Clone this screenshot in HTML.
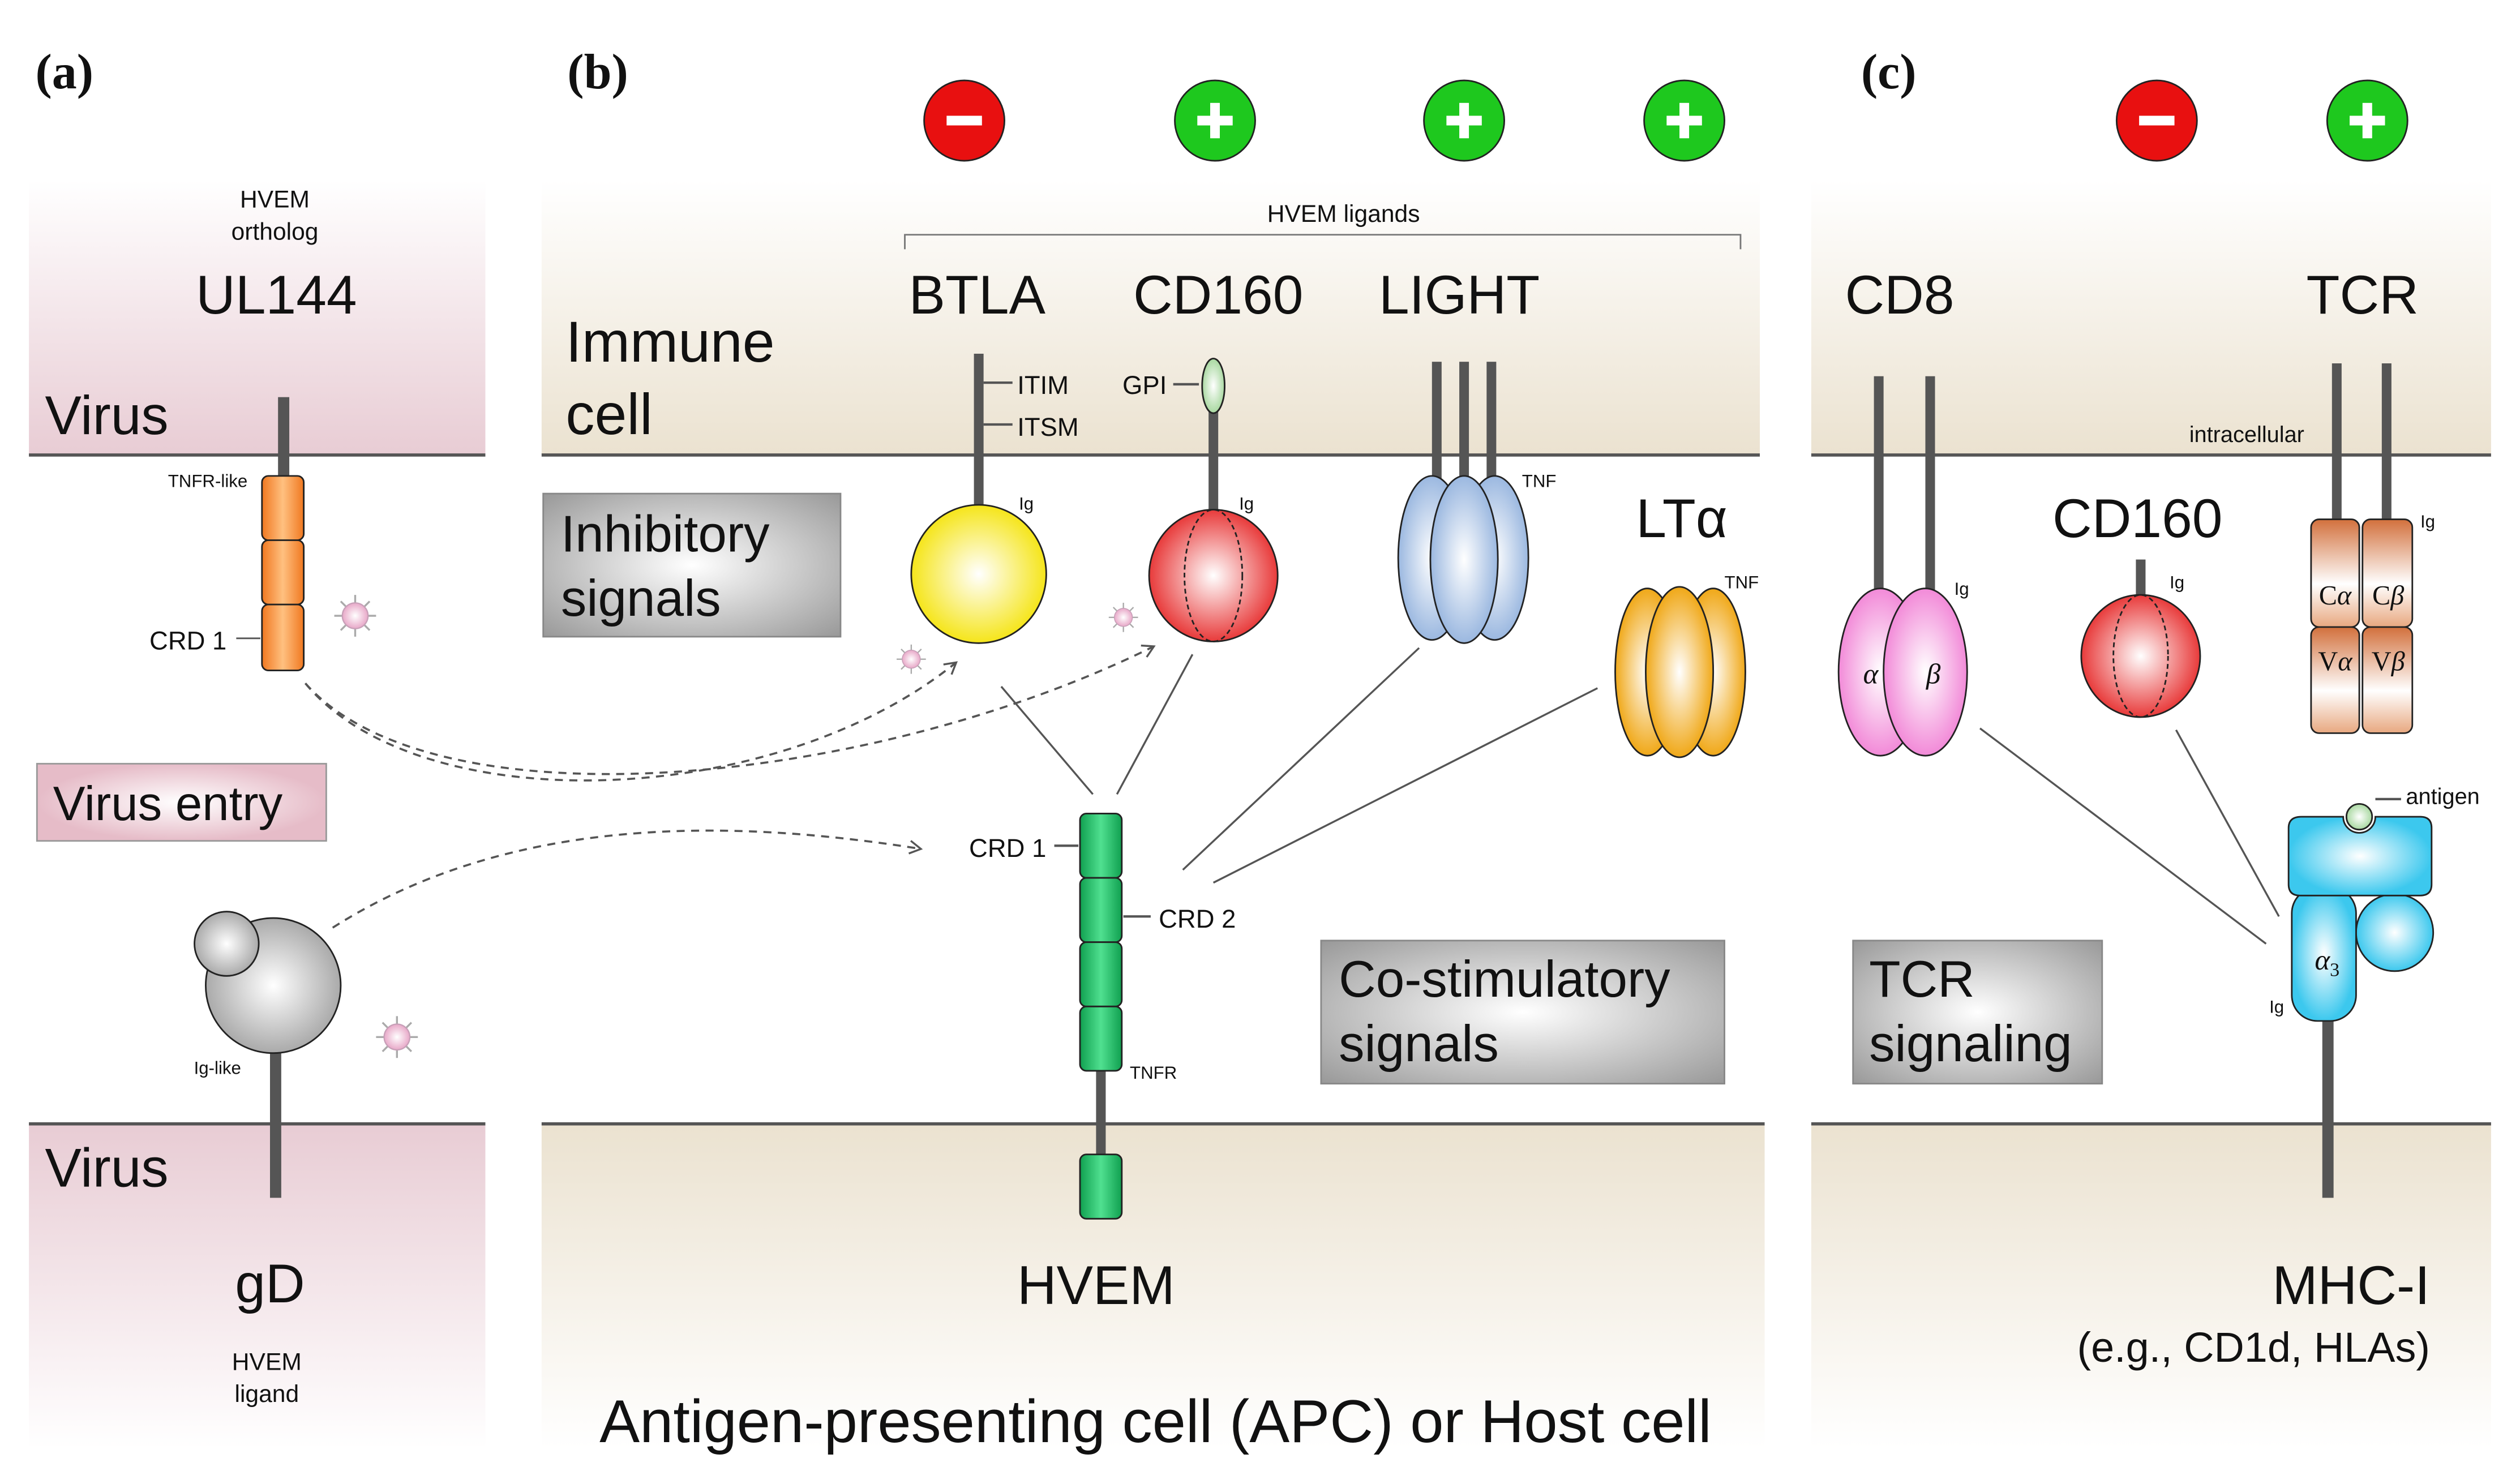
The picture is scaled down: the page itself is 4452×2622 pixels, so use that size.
<!DOCTYPE html>
<html><head><meta charset="utf-8"><style>
html,body{margin:0;padding:0;background:#fff}
svg{display:block}
text{font-family:"Liberation Sans",sans-serif;fill:#111}
.s{font-family:"Liberation Serif",serif}
</style></head><body>
<svg width="4452" height="2622" viewBox="0 0 1568 923" preserveAspectRatio="none" xmlns="http://www.w3.org/2000/svg">
<defs>
<linearGradient id="pkT" x1="0" y1="0" x2="0" y2="1"><stop offset="0" stop-color="#fff"/><stop offset="1" stop-color="#e8ccd4"/></linearGradient>
<linearGradient id="pkB" x1="0" y1="0" x2="0" y2="1"><stop offset="0" stop-color="#e8ccd4"/><stop offset="1" stop-color="#fff"/></linearGradient>
<linearGradient id="bgT" x1="0" y1="0" x2="0" y2="1"><stop offset="0" stop-color="#fff"/><stop offset="1" stop-color="#ebe2d0"/></linearGradient>
<linearGradient id="bgB" x1="0" y1="0" x2="0" y2="1"><stop offset="0" stop-color="#ebe2d0"/><stop offset="1" stop-color="#fff"/></linearGradient>
<radialGradient id="gy"><stop offset="0" stop-color="#fff"/><stop offset="1" stop-color="#aaa"/></radialGradient>
<radialGradient id="gbox" cx="0.5" cy="0.5" r="0.7"><stop offset="0" stop-color="#fff"/><stop offset="1" stop-color="#999"/></radialGradient>
<radialGradient id="pkbox"><stop offset="0" stop-color="#fff"/><stop offset="1" stop-color="#e6bcc8"/></radialGradient>
<radialGradient id="yl"><stop offset="0" stop-color="#fff"/><stop offset="1" stop-color="#f5e51a"/></radialGradient>
<radialGradient id="rd"><stop offset="0" stop-color="#fff"/><stop offset="1" stop-color="#e83a3a"/></radialGradient>
<radialGradient id="bl"><stop offset="0" stop-color="#fff"/><stop offset="1" stop-color="#9bb8e0"/></radialGradient>
<radialGradient id="or"><stop offset="0" stop-color="#fff"/><stop offset="1" stop-color="#f0a818"/></radialGradient>
<radialGradient id="pi"><stop offset="0" stop-color="#fff"/><stop offset="1" stop-color="#f28ad8"/></radialGradient>
<radialGradient id="cy"><stop offset="0" stop-color="#fff"/><stop offset="1" stop-color="#3cc8ee"/></radialGradient>
<linearGradient id="brn" x1="0" y1="0" x2="0" y2="1"><stop offset="0" stop-color="#d2703c"/><stop offset="0.6" stop-color="#fff"/><stop offset="1" stop-color="#e8a880"/></linearGradient>
<linearGradient id="orh" x1="0" y1="0" x2="1" y2="0"><stop offset="0" stop-color="#f07820"/><stop offset="0.5" stop-color="#ffc080"/><stop offset="1" stop-color="#f07820"/></linearGradient>
<linearGradient id="grh" x1="0" y1="0" x2="1" y2="0"><stop offset="0" stop-color="#10a050"/><stop offset="0.5" stop-color="#50e090"/><stop offset="1" stop-color="#10a050"/></linearGradient>
<radialGradient id="vir"><stop offset="0" stop-color="#fff"/><stop offset="1" stop-color="#e8a8c8"/></radialGradient>
<radialGradient id="lg"><stop offset="0" stop-color="#fff"/><stop offset="1" stop-color="#a8d8a0"/></radialGradient>
<marker id="ah" markerWidth="10" markerHeight="10" refX="8" refY="5" orient="auto" markerUnits="userSpaceOnUse"><path d="M1,1 L8,5 L1,9" fill="none" stroke="#555" stroke-width="1.2"/></marker>
<g id="virus"><g stroke="#aaa" stroke-width="1.2"><line x1="-13" y1="0" x2="13" y2="0"/><line x1="0" y1="-13" x2="0" y2="13"/><line x1="-9" y1="-9" x2="9" y2="9"/><line x1="-9" y1="9" x2="9" y2="-9"/></g><circle r="8" fill="url(#vir)" stroke="#c8a0b8" stroke-width="0.8"/></g>
</defs>

<rect x="18" y="112" width="284" height="171" fill="url(#pkT)"/>
<rect x="18" y="699" width="284" height="202" fill="url(#pkB)"/>
<rect x="337" y="112" width="758" height="171" fill="url(#bgT)"/>
<rect x="337" y="699" width="761" height="202" fill="url(#bgB)"/>
<rect x="1127" y="112" width="423" height="171" fill="url(#bgT)"/>
<rect x="1127" y="699" width="423" height="202" fill="url(#bgB)"/>
<g stroke="#555" stroke-width="2"><line x1="18" y1="283" x2="302" y2="283"/><line x1="18" y1="699" x2="302" y2="699"/><line x1="337" y1="283" x2="1095" y2="283"/><line x1="337" y1="699" x2="1098" y2="699"/><line x1="1127" y1="283" x2="1550" y2="283"/><line x1="1127" y1="699" x2="1550" y2="699"/></g>

<text class="s" x="22" y="55" font-size="31" font-weight="bold">(a)</text>
<text class="s" x="353" y="55" font-size="31" font-weight="bold">(b)</text>
<text class="s" x="1158" y="55" font-size="31" font-weight="bold">(c)</text>

<g stroke="#222" stroke-width="1">
<circle cx="600" cy="75" r="25" fill="#e81010"/><circle cx="756" cy="75" r="25" fill="#1ec81e"/><circle cx="911" cy="75" r="25" fill="#1ec81e"/><circle cx="1048" cy="75" r="25" fill="#1ec81e"/><circle cx="1342" cy="75" r="25" fill="#e81010"/><circle cx="1473" cy="75" r="25" fill="#1ec81e"/></g>
<g fill="#fff"><rect x="589" y="72" width="22" height="6"/><rect x="745" y="72" width="22" height="6"/><rect x="753" y="64" width="6" height="22"/><rect x="900" y="72" width="22" height="6"/><rect x="908" y="64" width="6" height="22"/><rect x="1037" y="72" width="22" height="6"/><rect x="1045" y="64" width="6" height="22"/><rect x="1331" y="72" width="22" height="6"/><rect x="1462" y="72" width="22" height="6"/><rect x="1470" y="64" width="6" height="22"/></g>

<text x="836" y="138" font-size="15" text-anchor="middle">HVEM ligands</text>
<path d="M563,155 V146 H1083 V155" fill="none" stroke="#777" stroke-width="1"/>

<text x="171" y="129" font-size="15" text-anchor="middle">HVEM</text>
<text x="171" y="149" font-size="15" text-anchor="middle">ortholog</text>
<text x="172" y="195" font-size="34" text-anchor="middle">UL144</text>
<text x="28" y="270" font-size="34">Virus</text>
<rect x="173" y="247" width="7" height="50" fill="#555"/>
<g stroke="#222" stroke-width="1" fill="url(#orh)"><rect x="163" y="296" width="26" height="40" rx="4"/><rect x="163" y="336" width="26" height="40" rx="4"/><rect x="163" y="376" width="26" height="41" rx="4"/></g>
<text x="154" y="303" font-size="11" text-anchor="end">TNFR-like</text>
<text x="141" y="404" font-size="16" text-anchor="end">CRD 1</text>
<line x1="147" y1="397" x2="162" y2="397" stroke="#555"/>
<use href="#virus" x="221" y="383"/>
<g fill="none" stroke="#555" stroke-width="1.3" stroke-dasharray="5,4">
<path d="M190,425 C260,510 480,505 595,412" marker-end="url(#ah)"/>
<path d="M190,425 C270,515 540,490 718,402" marker-end="url(#ah)"/>
<path d="M207,577 C320,505 460,510 573,528" marker-end="url(#ah)"/>
</g>
<rect x="23" y="475" width="180" height="48" fill="url(#pkbox)" stroke="#999"/>
<text x="33" y="510" font-size="30">Virus entry</text>
<rect x="168" y="650" width="7" height="95" fill="#555"/>
<circle cx="170" cy="613" r="42" fill="url(#gy)" stroke="#222"/>
<circle cx="141" cy="587" r="20" fill="url(#gy)" stroke="#222"/>
<text x="150" y="668" font-size="11" text-anchor="end">Ig-like</text>
<use href="#virus" x="247" y="645"/>
<text x="28" y="738" font-size="34">Virus</text>
<text x="168" y="810" font-size="34" text-anchor="middle">gD</text>
<text x="166" y="852" font-size="15" text-anchor="middle">HVEM</text>
<text x="166" y="872" font-size="15" text-anchor="middle">ligand</text>

<text x="352" y="225" font-size="36">Immune</text>
<text x="352" y="270" font-size="36">cell</text>
<rect x="338" y="307" width="185" height="89" fill="url(#gbox)" stroke="#888"/>
<text x="349" y="343" font-size="32">Inhibitory</text>
<text x="349" y="383" font-size="32">signals</text>
<text x="608" y="195" font-size="34" text-anchor="middle">BTLA</text>
<text x="758" y="195" font-size="34" text-anchor="middle">CD160</text>
<text x="908" y="195" font-size="34" text-anchor="middle">LIGHT</text>
<rect x="606" y="220" width="6" height="100" fill="#555"/>
<g stroke="#555" stroke-width="1.5"><line x1="612" y1="238" x2="630" y2="238"/><line x1="612" y1="264" x2="630" y2="264"/><line x1="730" y1="239" x2="746" y2="239"/><line x1="656" y1="526" x2="671" y2="526"/><line x1="699" y1="570" x2="716" y2="570"/><line x1="1478" y1="497" x2="1494" y2="497"/></g>
<text x="633" y="245" font-size="16">ITIM</text>
<text x="633" y="271" font-size="16">ITSM</text>
<ellipse cx="609" cy="357" rx="42" ry="43" fill="url(#yl)" stroke="#222"/>
<text x="634" y="317" font-size="11">Ig</text>
<rect x="752" y="255" width="6" height="64" fill="#555"/>
<ellipse cx="755" cy="240" rx="7" ry="17" fill="url(#lg)" stroke="#222"/>
<text x="726" y="245" font-size="16" text-anchor="end">GPI</text>
<ellipse cx="755" cy="358" rx="40" ry="41" fill="url(#rd)" stroke="#222"/>
<ellipse cx="755" cy="358" rx="18" ry="41" fill="none" stroke="#222" stroke-dasharray="3,2"/>
<text x="771" y="317" font-size="11">Ig</text>
<g fill="#555"><rect x="891" y="225" width="6" height="75"/><rect x="908" y="225" width="6" height="75"/><rect x="925" y="225" width="6" height="75"/></g>
<g stroke="#222" fill="url(#bl)"><ellipse cx="930" cy="347" rx="21" ry="51"/><ellipse cx="891" cy="347" rx="21" ry="51"/><ellipse cx="911" cy="348" rx="21" ry="52"/></g>
<text x="947" y="303" font-size="11">TNF</text>
<text x="1018" y="334" font-size="34">LTα</text>
<g stroke="#222" fill="url(#or)"><ellipse cx="1066" cy="418" rx="20" ry="52"/><ellipse cx="1025" cy="418" rx="20" ry="52"/><ellipse cx="1045" cy="418" rx="21" ry="53"/></g>
<text x="1073" y="366" font-size="11">TNF</text>
<use href="#virus" x="567" y="410" transform="translate(567 410) scale(0.7) translate(-567 -410)"/>
<use href="#virus" x="699" y="384" transform="translate(699 384) scale(0.7) translate(-699 -384)"/>
<g stroke="#555" stroke-width="1.2"><line x1="623" y1="427" x2="680" y2="494"/><line x1="742" y1="407" x2="695" y2="494"/><line x1="883" y1="403" x2="736" y2="541"/><line x1="994" y1="428" x2="755" y2="549"/><line x1="1232" y1="453" x2="1410" y2="587"/><line x1="1354" y1="454" x2="1418" y2="570"/></g>
<rect x="682" y="664" width="6" height="56" fill="#555"/>
<g stroke="#222" fill="url(#grh)"><rect x="672" y="506" width="26" height="40" rx="4"/><rect x="672" y="546" width="26" height="40" rx="4"/><rect x="672" y="586" width="26" height="40" rx="4"/><rect x="672" y="626" width="26" height="40" rx="4"/><rect x="672" y="718" width="26" height="40" rx="4"/></g>
<text x="651" y="533" font-size="16" text-anchor="end">CRD 1</text>
<text x="721" y="577" font-size="16">CRD 2</text>
<text x="703" y="671" font-size="11">TNFR</text>
<rect x="822" y="585" width="251" height="89" fill="url(#gbox)" stroke="#888"/>
<text x="833" y="620" font-size="32">Co-stimulatory</text>
<text x="833" y="660" font-size="32">signals</text>
<text x="682" y="811" font-size="34" text-anchor="middle">HVEM</text>
<text x="719" y="897" font-size="37.5" text-anchor="middle">Antigen-presenting cell (APC) or Host cell</text>

<text x="1182" y="195" font-size="34" text-anchor="middle">CD8</text>
<text x="1470" y="195" font-size="34" text-anchor="middle">TCR</text>
<text x="1398" y="275" font-size="14" text-anchor="middle">intracellular</text>
<g fill="#555"><rect x="1166" y="234" width="6" height="145"/><rect x="1198" y="234" width="6" height="145"/><rect x="1451" y="226" width="6" height="100"/><rect x="1482" y="226" width="6" height="100"/><rect x="1329" y="348" width="6" height="26"/><rect x="1445" y="630" width="7" height="115"/></g>
<g stroke="#222" fill="url(#pi)"><ellipse cx="1170" cy="418" rx="26" ry="52"/><ellipse cx="1198" cy="418" rx="26" ry="52"/></g>
<text class="s" x="1164" y="425" font-size="18" font-style="italic" text-anchor="middle">α</text>
<text class="s" x="1203" y="425" font-size="18" font-style="italic" text-anchor="middle">β</text>
<text x="1216" y="370" font-size="11">Ig</text>
<text x="1330" y="334" font-size="34" text-anchor="middle">CD160</text>
<ellipse cx="1332" cy="408" rx="37" ry="38" fill="url(#rd)" stroke="#222"/>
<ellipse cx="1332" cy="408" rx="17" ry="38" fill="none" stroke="#222" stroke-dasharray="3,2"/>
<text x="1350" y="366" font-size="11">Ig</text>
<g stroke="#222" fill="url(#brn)"><rect x="1438" y="323" width="30" height="67" rx="5"/><rect x="1470" y="323" width="31" height="67" rx="5"/><rect x="1438" y="390" width="30" height="66" rx="5"/><rect x="1470" y="390" width="31" height="66" rx="5"/></g>
<g class="s" font-size="17"><text class="s" x="1453" y="376" text-anchor="middle">C<tspan font-style="italic">α</tspan></text><text class="s" x="1486" y="376" text-anchor="middle">C<tspan font-style="italic">β</tspan></text><text class="s" x="1453" y="417" text-anchor="middle">V<tspan font-style="italic">α</tspan></text><text class="s" x="1486" y="417" text-anchor="middle">V<tspan font-style="italic">β</tspan></text></g>
<text x="1506" y="328" font-size="11">Ig</text>
<g stroke="#222" fill="url(#cy)">
<circle cx="1490" cy="580" r="24"/>
<rect x="1426" y="552" width="40" height="83" rx="16"/>
<path d="M1432,508 H1458 A10,10 0 0 0 1478,508 H1506 Q1513,508 1513,515 V550 Q1513,557 1506,557 H1431 Q1424,557 1424,550 V515 Q1424,508 1432,508 Z"/>
</g>
<circle cx="1468" cy="508" r="8" fill="url(#lg)" stroke="#222"/>
<text class="s" x="1448" y="603" font-size="18" font-style="italic" text-anchor="middle">α<tspan font-size="12" dy="4" font-style="normal">3</tspan></text>
<text x="1497" y="500" font-size="14">antigen</text>
<text x="1412" y="630" font-size="11">Ig</text>
<rect x="1153" y="585" width="155" height="89" fill="url(#gbox)" stroke="#888"/>
<text x="1163" y="620" font-size="32">TCR</text>
<text x="1163" y="660" font-size="32">signaling</text>
<text x="1512" y="811" font-size="34" text-anchor="end">MHC-I</text>
<text x="1512" y="847" font-size="26" text-anchor="end">(e.g., CD1d, HLAs)</text>
</svg>
</body></html>
